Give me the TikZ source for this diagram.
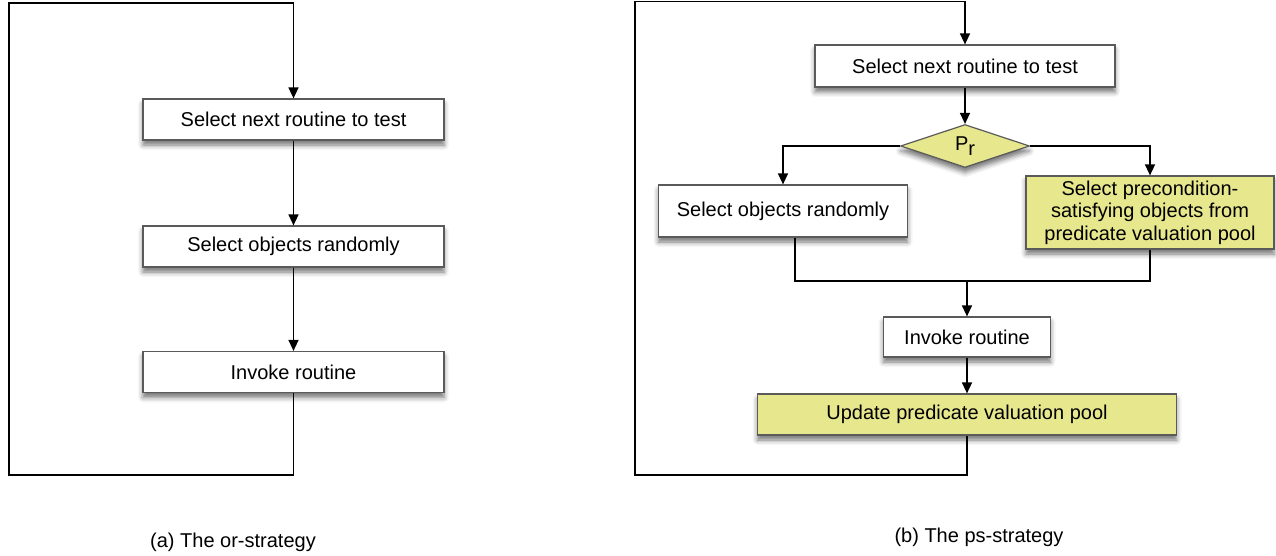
\documentclass[tikz,border=0pt]{standalone}
\usepackage{fontspec}
\setmainfont{Liberation Sans}
\usetikzlibrary{arrows.meta,shapes.geometric,shadows.blur}
\definecolor{pyellow}{RGB}{231,231,142}
\definecolor{pborder}{RGB}{90,90,90}
\begin{document}
\begin{tikzpicture}[x=1pt,y=-1pt,
  every node/.style={font=\fontsize{20}{24}\selectfont},
  box/.style={draw=pborder,line width=1.2pt,fill=white,inner sep=0pt,align=center,
    blur shadow={shadow xshift=0pt,shadow yshift=-5pt,shadow blur radius=5pt,shadow opacity=55}},
  ybox/.style={box,fill=pyellow},
  dec/.style={diamond,draw=pborder,line width=1.2pt,fill=pyellow,inner sep=0pt,
    blur shadow={shadow xshift=0pt,shadow yshift=-5pt,shadow blur radius=5pt,shadow opacity=55}},
  conn/.style={line width=1.4pt,black},
  arr/.style={conn,-{Triangle[length=11pt,width=10pt]}},
  captext/.style={font=\fontsize{20}{24}\selectfont}
]
\useasboundingbox (0,0) rectangle (1276,556);

% ---------- (a) ----------
\node[box,minimum width=301pt,minimum height=41pt] (a1) at (293.5,119.5) {Select next routine to test};
\node[box,minimum width=301pt,minimum height=41pt] (a2) at (293.5,246.5) {Select objects randomly};
\node[box,minimum width=301pt,minimum height=41pt] (a3) at (293.5,372) {Invoke routine};
\coordinate (la) at (9,3);
\coordinate (lb) at (9,475);
\draw[arr] (a1) -- (a2);
\draw[arr] (a2) -- (a3);
\draw[arr] (a3.south) |- (lb) -- (la) -| (a1.north);
\node[captext] (capa) at (233,542) {(a) The or-strategy};

% ---------- (b) ----------
\node[box,minimum width=300pt,minimum height=42pt] (b1) at (965,66) {Select next routine to test};
\node[dec,minimum width=129pt,minimum height=43pt] (d) at (965,146) {P\raisebox{-0.22em}{r}};
\node[box,minimum width=249pt,minimum height=52pt] (b2) at (783,211) {Select objects randomly};
\node[ybox,minimum width=248pt,minimum height=73pt,font=\fontsize{20}{22.5}\selectfont] (b3) at (1150,212.5) {Select precondition-\\satisfying objects from\\predicate valuation pool};
\node[box,minimum width=167pt,minimum height=40pt] (b4) at (967,337) {Invoke routine};
\node[ybox,minimum width=419pt,minimum height=41pt] (b5) at (967,414.5) {Update predicate valuation pool};
\coordinate (jm) at (967,281);
\coordinate (ra) at (635,1.5);
\coordinate (rb) at (635,475);

\draw[arr] (b1.south -| d.north) -- (d.north);
\draw[arr] (d.west) -| (b2.north);
\draw[arr] (d.east) -| (b3.north);
\draw[conn] ([xshift=12pt]b2.south) |- (jm) -| (b3.south);
\draw[arr] (jm) -- (b4.north);
\draw[arr] (b4) -- (b5);
\draw[arr] (b5.south) |- (rb) -- (ra) -| (b1.north);
\node[captext] (capb) at (979,537) {(b) The ps-strategy};
\end{tikzpicture}
\end{document}
